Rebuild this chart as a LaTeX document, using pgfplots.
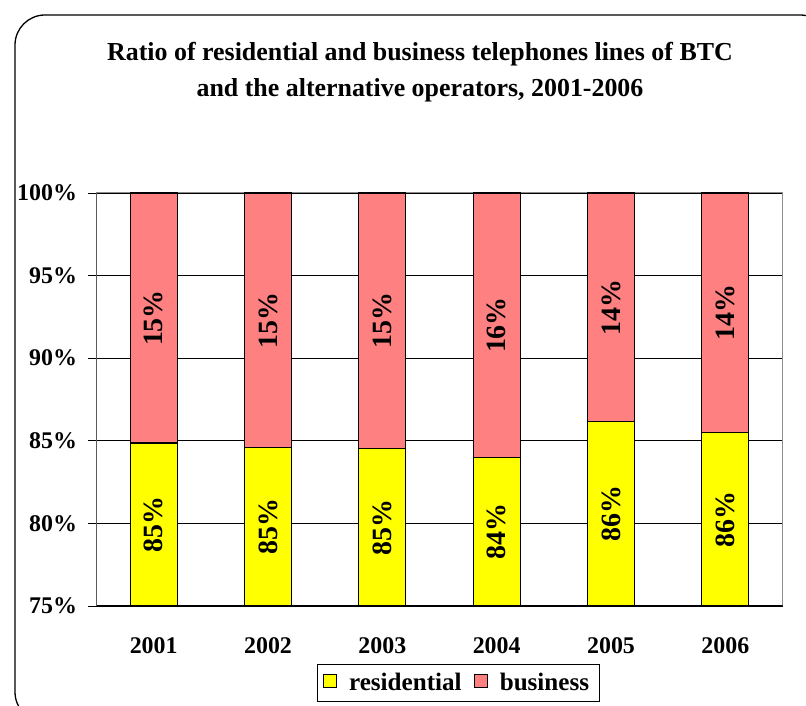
\documentclass[border=0pt]{standalone}
\usepackage{pgfplots}
\pgfplotsset{compat=1.18}
\usepackage{pgfplotstable}
\usepackage{fontspec}
\setmainfont{Liberation Serif}

\definecolor{resyellow}{RGB}{255,255,0}
\definecolor{buspink}{RGB}{255,128,128}
\definecolor{framegray}{RGB}{140,140,140}

% share of residential and business lines, per cent
\pgfplotstableread{
x res bus
1 84.86 15.14
2 84.59 15.41
3 84.52 15.48
4 84.01 15.99
5 86.17 13.83
6 85.52 14.48
}\lines

\begin{document}
\begin{tikzpicture}
\clip (0bp,0bp) rectangle (806bp,706bp);
% chart frame
\draw[line width=1.3bp, rounded corners=30bp] (15bp,-16bp) rectangle (830bp,691bp);
% title
\node[font=\bfseries\fontsize{26}{36}\selectfont, align=center] at (420bp,634bp)
  {Ratio of residential and business telephones lines of BTC\\and the alternative operators, 2001-2006};
\begin{axis}[
  at={(96.5bp,100bp)}, anchor=south west,
  scale only axis, width=686bp, height=413bp,
  xmin=0.5, xmax=6.5, ymin=75, ymax=100,
  axis line style={framegray, line width=1bp},
  xtick={1,...,6},
  xticklabels={2001,2002,2003,2004,2005,2006},
  x tick style={draw=none},
  minor xtick={0.5,1.5,...,6.5},
  minor x tick style={black, line width=0.8bp},
  minor tick length=8bp,
  ytick={75,80,...,100},
  yticklabels={75\%,80\%,85\%,90\%,95\%,100\%},
  y tick style={black, line width=0.8bp},
  major tick length=8bp,
  tick align=outside,
  tick pos=left,
  ymajorgrids,
  grid style={black, line width=0.8bp},
  /pgf/number format/assume math mode=true,
  ticklabel style={font=\bfseries\fontsize{24}{24}\selectfont},
  yticklabel style={xshift=-8bp},
  xticklabel style={anchor=base, yshift=-39bp},
  legend style={at={(0.527,-0.186)}, anchor=center, draw=black, line width=0.8bp,
    font=\bfseries\fontsize{25.2}{25.2}\selectfont, legend columns=2,
    inner xsep=6bp, inner ysep=9bp, column sep=8bp,
    nodes={inner xsep=4bp, inner ysep=0bp}},
  clip=true,
]
% business share stacked above residential, up to 100%
\addplot[ybar, bar width=47bp, bar shift=0pt, fill=buspink, draw=black, line width=1.3bp, forget plot]
  table[x=x, y expr=\thisrow{res}+\thisrow{bus}] {\lines};
\addplot[ybar, bar width=47bp, bar shift=0pt, fill=resyellow, draw=black, line width=1.3bp, forget plot]
  table[x=x, y=res] {\lines};
% value labels centred in each segment
\addplot[draw=none, mark=none, forget plot, point meta=explicit,
  nodes near coords={\pgfmathprintnumber[fixed, precision=0]{\pgfplotspointmeta}\%},
  every node near coord/.style={anchor=center, rotate=90, inner sep=0pt,
    font=\bfseries\fontsize{28}{28}\selectfont}]
  table[x=x, y expr=(75+\thisrow{res})/2, meta=res] {\lines};
\addplot[draw=none, mark=none, forget plot, point meta=explicit,
  nodes near coords={\pgfmathprintnumber[fixed, precision=0]{\pgfplotspointmeta}\%},
  every node near coord/.style={anchor=center, rotate=90, inner sep=0pt,
    font=\bfseries\fontsize{28}{28}\selectfont}]
  table[x=x, y expr=\thisrow{res}+\thisrow{bus}/2, meta=bus] {\lines};
% left and bottom axis lines in black
\draw[black, line width=1bp] (rel axis cs:0,1) -- (rel axis cs:0,0) -- (rel axis cs:1,0);
\addlegendimage{legend image code/.code={%
  \draw[fill=resyellow, draw=black, line width=1.2bp] (0bp,-5bp) rectangle (13bp,8bp);}}
\addlegendentry{residential}
\addlegendimage{legend image code/.code={%
  \draw[fill=buspink, draw=black, line width=1.2bp] (0bp,-5bp) rectangle (13bp,8bp);}}
\addlegendentry{business}
\end{axis}
\end{tikzpicture}
\end{document}
